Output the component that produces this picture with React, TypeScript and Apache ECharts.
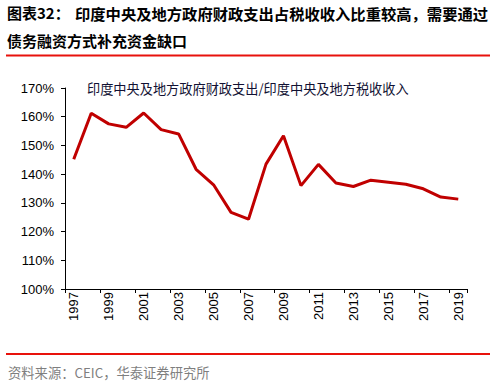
import React, { useEffect, useRef } from "react";
import * as echarts from "echarts";

const years = [
  "1997", "1998", "1999", "2000", "2001", "2002", "2003", "2004", "2005", "2006", "2007", "2008",
  "2009", "2010", "2011", "2012", "2013", "2014", "2015", "2016", "2017", "2018", "2019",
];
const ratioValues = [
  145.2, 161.2, 157.5, 156.3, 161.3, 155.5, 154.0, 141.7, 136.3, 126.7, 124.3, 143.5,
  153.4, 136.0, 143.4, 136.9, 135.7, 137.9, 137.2, 136.5, 134.9, 132.0, 131.3,
];
const seriesName = "印度中央及地方政府财政支出/印度中央及地方税收收入";
const titleLead = "图表32：";
const titleLine1 = "印度中央及地方政府财政支出占税收收入比重较高，需要通过";
const titleLine2 = "债务融资方式补充资金缺口";
const sourceText = "资料来源：CEIC，华泰证券研究所";

const CJK = '"Noto Sans CJK SC", "Liberation Sans", sans-serif';
const LATIN = '"Liberation Sans", Arial, sans-serif';

export default function App() {
  const ref = useRef<HTMLDivElement>(null);
  useEffect(() => {
    document.body.style.margin = "0";
    const chart = echarts.init(ref.current!, null, { renderer: "svg" });
    chart.setOption({
      animation: false,
      backgroundColor: "#ffffff",
      grid: { left: 65, right: 31, top: 88, bottom: 97, containLabel: false },
      xAxis: {
        type: "category",
        data: years,
        boundaryGap: true,
        axisLine: { lineStyle: { color: "#000", width: 1 } },
        axisTick: { show: true, interval: 1, length: 4, lineStyle: { color: "#000" } },
        axisLabel: {
          interval: 1,
          rotate: 90,
          margin: 3,
          color: "#000",
          fontSize: 13,
          fontFamily: LATIN,
        },
      },
      yAxis: {
        type: "value",
        min: 100,
        max: 170,
        interval: 10,
        axisLine: { show: true, lineStyle: { color: "#000", width: 1 } },
        axisTick: { show: true, length: 4, lineStyle: { color: "#000" } },
        splitLine: { show: false },
        axisLabel: {
          formatter: "{value}%",
          color: "#000",
          fontSize: 13,
          fontFamily: LATIN,
          margin: 11,
        },
      },
      series: [
        {
          name: seriesName,
          type: "line",
          data: ratioValues,
          showSymbol: false,
          symbol: "none",
          lineStyle: { color: "#C00000", width: 3 },
          itemStyle: { color: "#C00000" },
        },
      ],
      graphic: [
        {
          type: "text",
          left: 7,
          top: 5,
          style: { text: titleLead, font: `bold 15px ${CJK}`, fill: "#000" },
        },
        {
          type: "text",
          left: 75,
          top: 5,
          style: { text: titleLine1, font: `bold 15.3px ${CJK}`, fill: "#000" },
        },
        {
          type: "text",
          left: 7,
          top: 33,
          style: { text: titleLine2, font: `bold 15px ${CJK}`, fill: "#000" },
        },
        {
          type: "line",
          shape: { x1: 6, y1: 55.5, x2: 490, y2: 55.5 },
          style: { stroke: "#E8120C", lineWidth: 2 },
        },
        {
          type: "text",
          left: 87,
          top: 82,
          style: { text: seriesName, font: `13.2px ${CJK}`, fill: "#111133" },
        },
        {
          type: "line",
          shape: { x1: 6, y1: 354, x2: 490, y2: 354 },
          style: { stroke: "#E8120C", lineWidth: 2 },
        },
        {
          type: "text",
          left: 8,
          top: 366,
          style: { text: sourceText, font: `13.3px ${CJK}`, fill: "#7f7f7f" },
        },
      ],
    });
    return () => chart.dispose();
  }, []);
  return (
    <div
      ref={ref}
      style={{ position: "absolute", left: 0, top: 0, width: 498, height: 386 }}
    />
  );
}
